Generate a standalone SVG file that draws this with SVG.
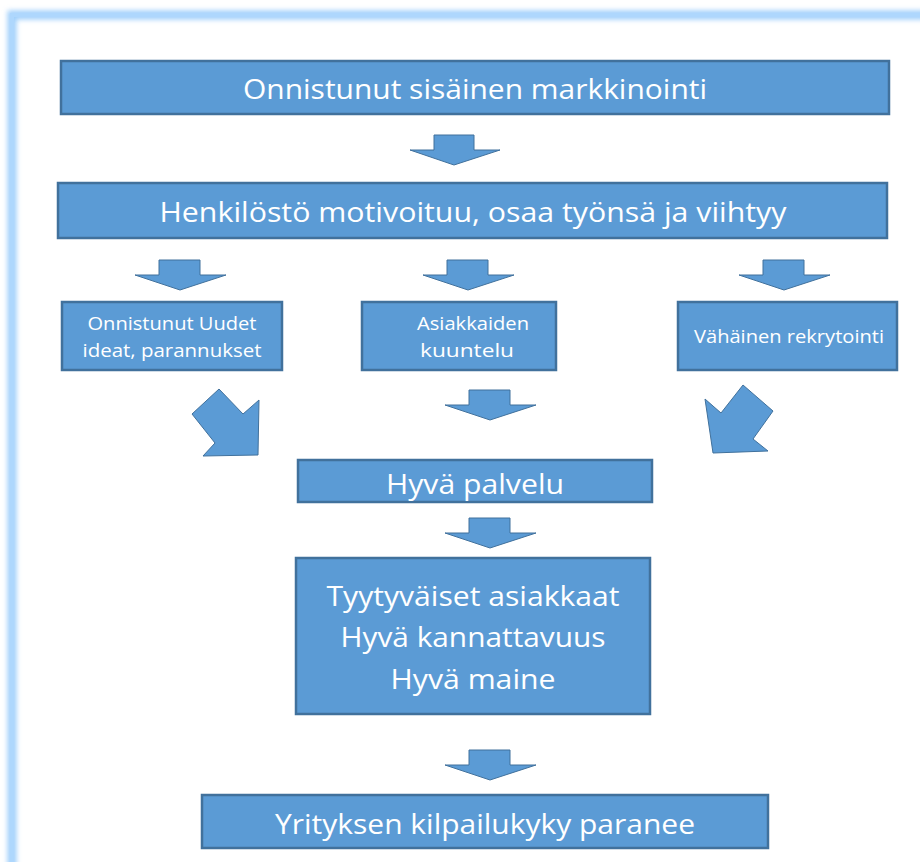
<svg xmlns="http://www.w3.org/2000/svg" width="920" height="862" viewBox="0 0 920 862">
<defs>
<filter id="glow" x="-5%" y="-5%" width="110%" height="110%"><feGaussianBlur stdDeviation="2.5"/></filter>
<style>
.box{fill:#5B9BD5;stroke:#41719C;stroke-width:2.5}
.arr{fill:#5B9BD5;stroke:#41719C;stroke-width:1;stroke-linejoin:miter}
.t{font-family:"Open Sans","Liberation Sans",sans-serif;fill:#FFFFFF;text-anchor:middle}
.big{font-size:28px}
.sm{font-size:18px}
</style>
</defs>
<rect x="0" y="0" width="920" height="862" fill="#FFFFFF"/>
<rect x="12" y="15" width="930" height="880" fill="none" stroke="#9FCFFB" stroke-width="9" filter="url(#glow)"/>
<rect x="12" y="15" width="930" height="880" fill="none" stroke="#AED7FD" stroke-width="4"/>

<g id="connectors">
<polygon class="arr" points="434,135 474,135 474,150 500,150 454,165 410,150 434,150"/>
<polygon class="arr" points="159,260 200,260 200,275 226,275 180,290 135,275 159,275"/>
<polygon class="arr" points="447,260 488,260 488,275 514,275 468,290 423,275 447,275"/>
<polygon class="arr" points="763,260 804,260 804,275 830,275 784,290 739,275 763,275"/>
<polygon class="arr" points="192,414 219,389 243,414 259,400 258,455 203,456 215,443"/>
<polygon class="arr" points="469,390 510,390 510,405 536,405 490,420 445,405 469,405"/>
<polygon class="arr" points="743,385 773,411 753,439 768,451 713,453 705,399 721,413"/>
<polygon class="arr" points="469,518 510,518 510,533 536,533 490,548 445,533 469,533"/>
<polygon class="arr" points="469,750 510,750 510,765 536,765 490,780 445,765 469,765"/>
</g>

<g id="n1">
<rect class="box" x="61" y="61" width="828" height="53"/>
<text class="t big" x="475" y="99" textLength="464" lengthAdjust="spacingAndGlyphs">Onnistunut sisäinen markkinointi</text>
</g>
<g id="n2">
<rect class="box" x="58" y="183" width="829" height="55"/>
<text class="t big" x="473" y="222" textLength="627" lengthAdjust="spacingAndGlyphs">Henkilöstö motivoituu, osaa työnsä ja viihtyy</text>
</g>
<g id="n3">
<rect class="box" x="62" y="302" width="220" height="68"/>
<text class="t sm" x="172" y="330" textLength="169" lengthAdjust="spacingAndGlyphs">Onnistunut Uudet</text>
<text class="t sm" x="172" y="357" textLength="179" lengthAdjust="spacingAndGlyphs">ideat, parannukset</text>
</g>
<g id="n4">
<rect class="box" x="362" y="302" width="194" height="68"/>
<text class="t sm" x="473" y="330" textLength="112" lengthAdjust="spacingAndGlyphs">Asiakkaiden</text>
<text class="t sm" x="467" y="357" textLength="94" lengthAdjust="spacingAndGlyphs">kuuntelu</text>
</g>
<g id="n5">
<rect class="box" x="678" y="302" width="219" height="68"/>
<text class="t sm" x="789" y="343" textLength="190" lengthAdjust="spacingAndGlyphs">Vähäinen rekrytointi</text>
</g>
<g id="n6">
<rect class="box" x="298" y="460" width="354" height="42"/>
<text class="t big" x="475" y="494" textLength="178" lengthAdjust="spacingAndGlyphs">Hyvä palvelu</text>
</g>
<g id="n7">
<rect class="box" x="296" y="558" width="354" height="156"/>
<text class="t big" x="473" y="606" textLength="293" lengthAdjust="spacingAndGlyphs">Tyytyväiset asiakkaat</text>
<text class="t big" x="473" y="647" textLength="265" lengthAdjust="spacingAndGlyphs">Hyvä kannattavuus</text>
<text class="t big" x="473" y="689" textLength="165" lengthAdjust="spacingAndGlyphs">Hyvä maine</text>
</g>
<g id="n8">
<rect class="box" x="202" y="795" width="566" height="53"/>
<text class="t big" x="485" y="834" textLength="420" lengthAdjust="spacingAndGlyphs">Yrityksen kilpailukyky paranee</text>
</g>
</svg>
